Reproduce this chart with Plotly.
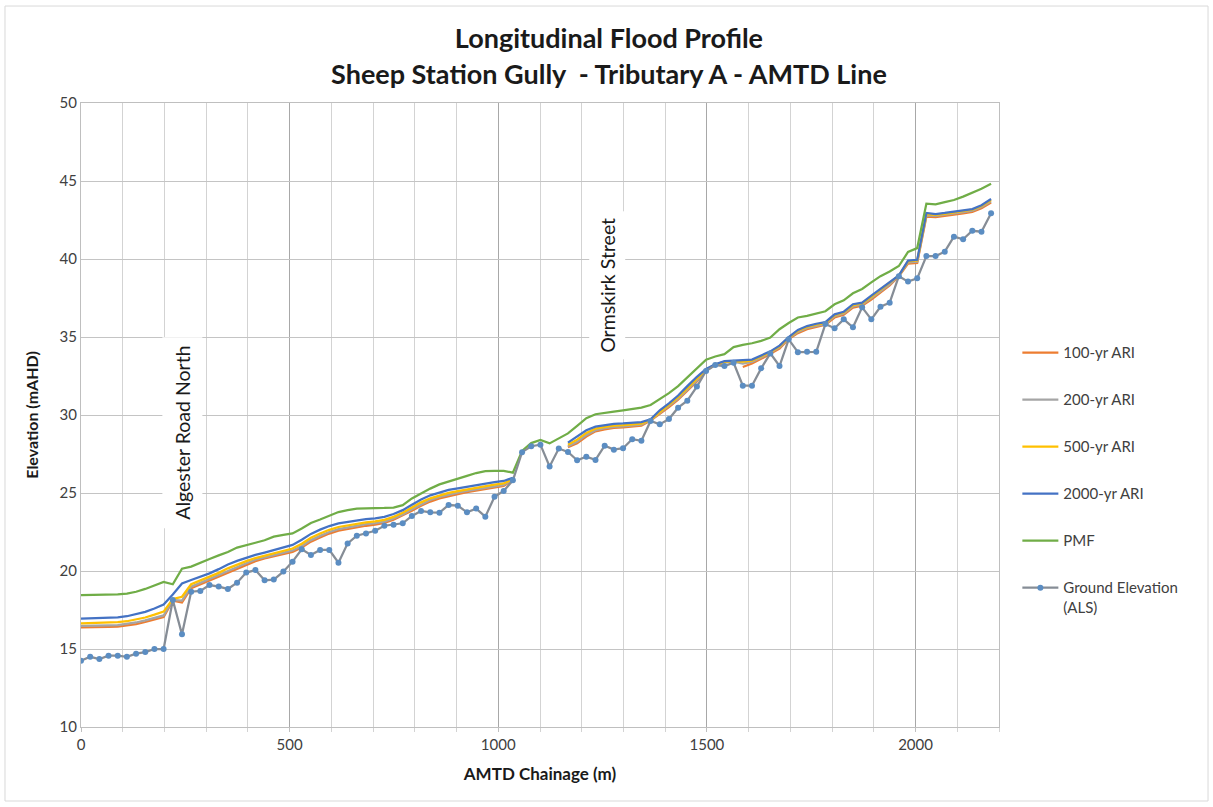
import plotly.graph_objects as go

chainage = [0, 22, 44, 66, 88, 110, 132, 154, 176, 198,
            220, 242, 264, 286, 308, 330, 352, 374, 396, 418,
            440, 462, 485, 507, 529, 551, 573, 595, 617, 639,
            661, 683, 705, 727, 749, 771, 793, 815, 837, 859,
            881, 903, 925, 947, 969, 991, 1013, 1035, 1057, 1079,
            1101, 1123, 1145, 1167, 1189, 1211, 1233, 1255, 1277, 1299,
            1321, 1343, 1365, 1387, 1409, 1431, 1453, 1476, 1498, 1520,
            1542, 1564, 1586, 1608, 1630, 1652, 1674, 1696, 1718, 1740,
            1762, 1784, 1806, 1828, 1850, 1872, 1894, 1916, 1938, 1960,
            1982, 2004, 2026, 2048, 2070, 2092, 2114, 2136, 2158, 2181]

ground = [14.25, 14.5, 14.36, 14.57, 14.57, 14.5, 14.7, 14.8, 15.0, 15.0,
          18.14, 15.94, 18.67, 18.72, 19.1, 19.0, 18.85, 19.25, 19.9, 20.06,
          19.4, 19.45, 19.96, 20.6, 21.39, 21.03, 21.35, 21.35, 20.53, 21.77,
          22.26, 22.41, 22.58, 22.9, 22.97, 23.06, 23.53, 23.85, 23.76, 23.74,
          24.23, 24.19, 23.76, 24.0, 23.48, 24.76, 25.13, 25.81, 27.62, 28.0,
          28.1, 26.7, 27.85, 27.63, 27.1, 27.33, 27.12, 28.03, 27.78, 27.87,
          28.45, 28.35, 29.62, 29.4, 29.74, 30.47, 30.92, 31.82, 32.82, 33.2,
          33.14, 33.35, 31.88, 31.88, 32.99, 33.95, 33.14, 34.85, 34.03, 34.05,
          34.05, 35.83, 35.56, 36.13, 35.62, 36.9, 36.13, 36.94, 37.2, 38.9,
          38.55, 38.76, 40.19, 40.19, 40.47, 41.43, 41.26, 41.81, 41.75, 42.93]

ari_2000 = [16.95, 16.96, 16.97, 17.0, 17.03, 17.1, 17.22, 17.38, 17.6, 17.85,
            18.5, 19.2, 19.42, 19.62, 19.85, 20.12, 20.42, 20.65, 20.85, 21.03,
            21.18, 21.35, 21.5, 21.67, 22.0, 22.38, 22.65, 22.88, 23.05, 23.15,
            23.25, 23.32, 23.38, 23.47, 23.65, 23.9, 24.25, 24.58, 24.85, 25.05,
            25.2, 25.3, 25.4, 25.52, 25.62, 25.7, 25.77, 25.98, None, None,
            None, None, None, 28.23, 28.65, 29.02, 29.25, 29.36, 29.43, 29.46,
            29.5, 29.55, 29.72, 30.3, 30.75, 31.25, 31.85, 32.45, 32.95, 33.25,
            33.45, 33.5, 33.52, 33.55, 33.8, 34.08, 34.45, 35.0, 35.45, 35.7,
            35.85, 35.95, 36.45, 36.62, 37.1, 37.2, 37.65, 38.1, 38.5, 38.95,
            39.9, 39.95, 42.95, 42.88, 42.95, 43.03, 43.1, 43.2, 43.45, 43.85]

pmf = [18.46, 18.46, 18.47, 18.48, 18.5, 18.55, 18.67, 18.85, 19.1, 19.3,
       19.15, 20.15, 20.28, 20.55, 20.77, 21.0, 21.22, 21.5, 21.68, 21.81,
       21.97, 22.2, 22.32, 22.41, 22.72, 23.08, 23.3, 23.55, 23.78, 23.9,
       24.0, 24.02, 24.02, 24.04, 24.07, 24.22, 24.65, 24.98, 25.28, 25.55,
       25.75, 25.92, 26.1, 26.28, 26.4, 26.42, 26.42, 26.3, 27.7, 28.2,
       28.4, 28.18, 28.5, 28.82, 29.3, 29.8, 30.05, 30.15, 30.22, 30.3,
       30.37, 30.47, 30.64, 31.0, 31.4, 31.85, 32.4, 33.0, 33.55, 33.75,
       33.9, 34.35, 34.5, 34.6, 34.75, 34.97, 35.5, 35.9, 36.25, 36.35,
       36.48, 36.65, 37.1, 37.35, 37.8, 38.08, 38.5, 38.9, 39.2, 39.55,
       40.45, 40.7, 43.55, 43.5, 43.65, 43.78, 44.0, 44.23, 44.5, 44.82]

ari_100 = [16.38, 16.38, 16.39, 16.41, 16.43, 16.5, 16.6, 16.73, 16.88, 17.05,
           18.1, 17.98, 18.9, 19.15, 19.42, 19.65, 19.93, 20.18, 20.42, 20.63,
           20.8, 20.95, 21.08, 21.22, 21.5, 21.88, 22.15, 22.4, 22.58, 22.7,
           22.82, 22.9, 22.97, 23.08, 23.28, 23.55, 23.87, 24.18, 24.45, 24.65,
           24.8, 24.93, 25.05, 25.15, 25.25, 25.35, 25.45, 25.83, None, None,
           None, None, None, 27.93, 28.18, 28.62, 28.95, 29.07, 29.17, 29.2,
           29.25, 29.32, 29.65, 30.05, 30.5, 30.98, 31.55, 32.15, 32.85, 33.22,
           33.3, None, 33.08, 33.3, 33.6, 33.95, 34.25, 34.87, 35.25, 35.5,
           35.65, 35.78, 36.25, 36.42, 36.88, 37.0, 37.4, 37.85, 38.3, 38.9,
           39.7, 39.75, 42.72, 42.68, 42.75, 42.83, 42.92, 43.02, 43.25, 43.62]

ari_200 = [16.48, 16.48, 16.49, 16.51, 16.53, 16.6, 16.7, 16.83, 16.98, 17.15,
           18.15, 18.1, 19.0, 19.25, 19.5, 19.75, 20.03, 20.28, 20.5, 20.72,
           20.88, 21.03, 21.17, 21.32, 21.6, 21.98, 22.25, 22.5, 22.68, 22.8,
           22.92, 23.0, 23.07, 23.17, 23.37, 23.63, 23.96, 24.28, 24.55, 24.75,
           24.9, 25.02, 25.13, 25.23, 25.33, 25.43, 25.52, 25.86, None, None,
           None, None, None, 28.0, 28.28, 28.72, 29.03, 29.15, 29.24, 29.27,
           29.32, 29.38, 29.68, 30.12, 30.57, 31.05, 31.62, 32.22, 32.88, 33.23,
           33.35, 33.42, 33.3, 33.4, 33.68, 34.0, 34.33, 34.92, 35.33, 35.58,
           35.73, 35.84, 36.33, 36.5, 36.96, 37.08, 37.5, 37.95, 38.38, 38.92,
           39.78, 39.83, 42.8, 42.76, 42.83, 42.91, 43.0, 43.1, 43.33, 43.7]

ari_500 = [16.65, 16.66, 16.67, 16.69, 16.72, 16.78, 16.88, 17.02, 17.2, 17.4,
           18.2, 18.35, 19.15, 19.38, 19.62, 19.88, 20.17, 20.42, 20.63, 20.83,
           20.98, 21.14, 21.28, 21.44, 21.75, 22.13, 22.4, 22.64, 22.82, 22.93,
           23.04, 23.12, 23.18, 23.28, 23.47, 23.73, 24.07, 24.4, 24.66, 24.86,
           25.01, 25.12, 25.23, 25.34, 25.44, 25.53, 25.61, 25.9, None, None,
           None, None, None, 28.1, 28.42, 28.85, 29.13, 29.24, 29.32, 29.35,
           29.39, 29.45, 29.7, 30.2, 30.65, 31.15, 31.72, 32.32, 32.9, 33.24,
           33.4, 33.46, 33.42, 33.48, 33.74, 34.04, 34.4, 34.96, 35.4, 35.65,
           35.8, 35.9, 36.4, 36.57, 37.04, 37.15, 37.58, 38.03, 38.45, 38.94,
           39.85, 39.9, 42.88, 42.83, 42.9, 42.98, 43.06, 43.16, 43.4, 43.78]

series_names = ["100-yr ARI", "200-yr ARI", "500-yr ARI", "2000-yr ARI", "PMF"]
series_values = [ari_100, ari_200, ari_500, ari_2000, pmf]
series_colors = ["#ed7d31", "#a5a5a5", "#ffc000", "#4472c4", "#70ad47"]
ground_name = "Ground Elevation<br>(ALS)"

x_ticks = [0, 500, 1000, 1500, 2000]
y_ticks = [10, 15, 20, 25, 30, 35, 40, 45, 50]

FONT = "Lato"

fig = go.Figure()
for name, vals, col in zip(series_names, series_values, series_colors):
    fig.add_trace(go.Scatter(
        x=chainage, y=vals, name=name, mode="lines",
        line=dict(color=col, width=2.25), legendgroup=name,
        connectgaps=False))

fig.add_trace(go.Scatter(
    x=chainage, y=ground, name=ground_name, mode="lines+markers",
    line=dict(color="#868d96", width=2.25),
    marker=dict(color="#5b8dc2", size=6),
    legendgroup="ground"))

fig.update_layout(
    width=1213, height=807,
    margin=dict(l=81, r=214, t=103, b=80),
    paper_bgcolor="white", plot_bgcolor="white",
    font=dict(family=FONT, color="#404040"),
    title=dict(
        text="Longitudinal Flood Profile<br>Sheep Station Gully  - Tributary A - AMTD Line",
        x=0.502, xref="container", xanchor="center",
        y=0.94, yref="container", yanchor="top",
        font=dict(family=FONT, size=27, color="#1a1a1a", weight="bold")),
    xaxis=dict(
        range=[0, 2200], tickvals=x_ticks, ticktext=[str(v) for v in x_ticks],
        showgrid=True, gridcolor="#a8a8a8", gridwidth=1,
        minor=dict(dtick=100, tick0=0, showgrid=True, gridcolor="#d3d3d3", gridwidth=1,
                   ticks="outside", ticklen=4, tickcolor="#d3d3d3"),
        ticks="outside", ticklen=4, tickcolor="#bfbfbf",
        showline=True, linecolor="#bfbfbf", mirror=True,
        zeroline=False,
        tickfont=dict(family=FONT, size=15, color="#404040"),
        title=dict(text="AMTD Chainage (m)", standoff=16,
                   font=dict(family=FONT, size=17, color="#1a1a1a", weight="bold"))),
    yaxis=dict(
        range=[10, 50], tickvals=y_ticks, ticktext=[str(v) for v in y_ticks],
        showgrid=True, gridcolor="#c4c4c4", gridwidth=1,
        showline=True, linecolor="#bfbfbf", mirror=True,
        zeroline=False, ticks="",
        tickfont=dict(family=FONT, size=15, color="#404040"),
        title=dict(text="Elevation (mAHD)", standoff=16,
                   font=dict(family=FONT, size=16, color="#1a1a1a", weight="bold"))),
    legend=dict(
        x=1.02, xanchor="left", y=0.626, yanchor="top",
        font=dict(family=FONT, size=15, color="#404040"),
        tracegroupgap=24.5, valign="top", itemwidth=36,
        bgcolor="rgba(0,0,0,0)"),
    showlegend=True,
)

fig.add_annotation(
    x=244, y=28.85, xref="x", yref="y",
    text="Algester Road North", textangle=-90, showarrow=False,
    font=dict(family=FONT, size=19.5, color="#1a1a1a"),
    bgcolor="white", borderpad=8)

fig.add_annotation(
    x=1260, y=38.33, xref="x", yref="y",
    text="Ormskirk Street", textangle=-90, showarrow=False,
    font=dict(family=FONT, size=19.5, color="#1a1a1a"),
    bgcolor="white", borderpad=6)

fig.add_shape(type="rect", xref="paper", yref="paper",
              x0=-0.0828, x1=1.2277, y0=-0.1186, y1=1.1554,
              line=dict(color="#d9d9d9", width=1), fillcolor="rgba(0,0,0,0)",
              layer="below")

fig.write_html("out.html")
